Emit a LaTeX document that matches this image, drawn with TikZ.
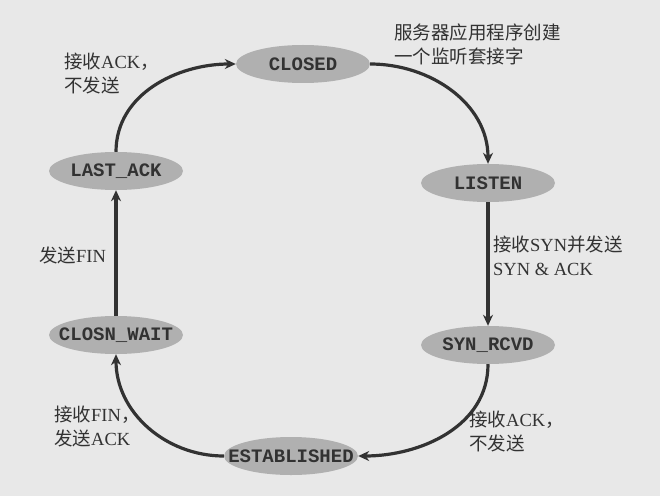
\documentclass[tikz,border=0pt]{standalone}
\usepackage{fontspec}
\setmainfont{Liberation Serif}
\setmonofont{Liberation Mono}
\newfontfamily\cjk{Noto Sans CJK SC}
\newcommand{\zhtxt}[1]{{\cjk #1}}
\usepackage{tikz}
\usetikzlibrary{shapes.geometric,arrows.meta}

\definecolor{pagebg}{RGB}{232,232,232}
\definecolor{statefill}{RGB}{176,176,176}
\definecolor{inkgray}{RGB}{50,50,50}

\tikzset{
    state/.style={ellipse, fill=statefill, minimum width=134pt, minimum height=38pt,
        inner xsep=-30pt, inner ysep=0pt, text=inkgray,
        font=\fontsize{19}{22}\selectfont\ttfamily\bfseries},
    lbl/.style={anchor=north west, inner sep=0pt, align=left, text=inkgray,
        font=\fontsize{18.5}{24}\selectfont},
    trans/.style={->, line width=3.2pt, draw=inkgray}
}

\begin{document}
\begin{tikzpicture}[x=1pt, y=1pt, >={Stealth[length=11pt,width=10pt]}]
    % Background
    \fill[pagebg] (0,0) rectangle (660,496);
    \useasboundingbox (0,0) rectangle (660,496);

    % States
    \node[state] (closed) at (303,432) {CLOSED};
    \node[state] (listen) at (488,313) {LISTEN};
    \node[state] (synrcvd) at (488,151) {SYN\_RCVD};
    \node[state] (established) at (291,40) {ESTABLISHED};
    \node[state] (closnwait) at (116,161) {CLOSN\_WAIT};
    \node[state] (lastack) at (116,325) {LAST\_ACK};

    % Labels
    \node[lbl] (lblclosed) at (64,443) {\zhtxt{接收}ACK\zhtxt{，}\\\zhtxt{不发送}};
    \node[lbl] (lbllisten) at (394,472) {\zhtxt{服务器应用程序创建}\\\zhtxt{一个监听套接字}};
    \node[lbl] (lblsyn) at (493,260) {\zhtxt{接收}SYN\zhtxt{并发送}\\SYN \& ACK};
    \node[lbl] (lblfin) at (39,249) {\zhtxt{发送}FIN};
    \node[lbl] (lblrecvfin) at (54,90) {\zhtxt{接收}FIN\zhtxt{，}\\\zhtxt{发送}ACK};
    \node[lbl] (lblack) at (469,85) {\zhtxt{接收}ACK\zhtxt{，}\\\zhtxt{不发送}};

    % Arrows
    \draw[trans] (closed.east) to[out=0, in=90] (listen.north);
    \draw[trans] (listen.south) -- (synrcvd.north);
    \draw[trans] (synrcvd.south) to[out=-90, in=0] (established.east);
    \draw[trans] (established.west) to[out=180, in=-90] (closnwait.south);
    \draw[trans] (closnwait.north) -- (lastack.south);
    \draw[trans] (lastack.north) to[out=90, in=180] (closed.west);
\end{tikzpicture}
\end{document}
